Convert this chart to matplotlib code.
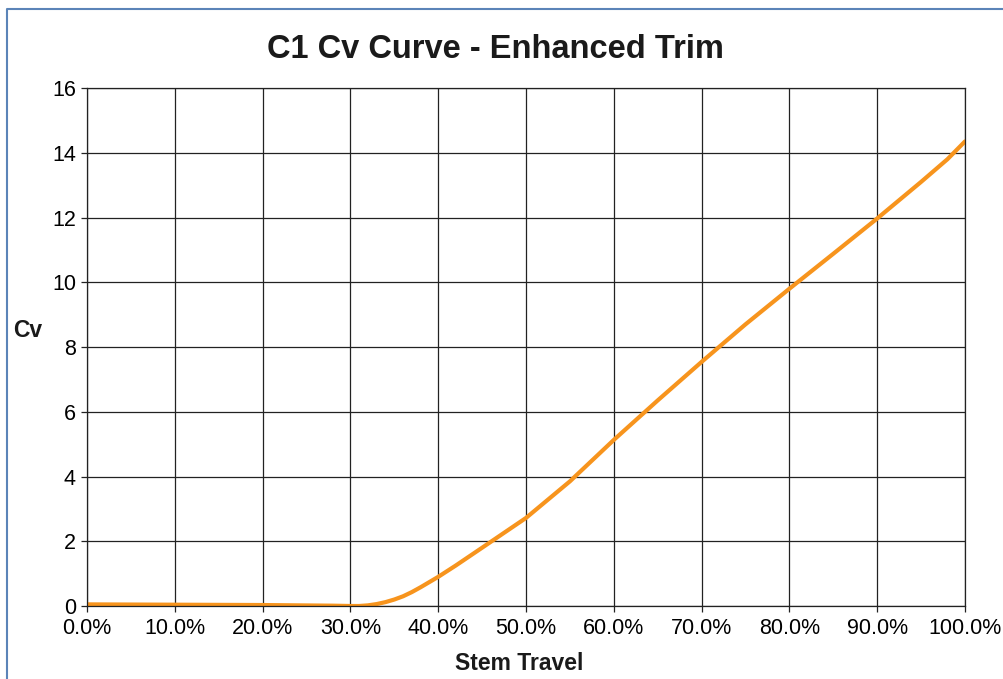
import matplotlib.pyplot as plt
from matplotlib.lines import Line2D
from matplotlib.ticker import FuncFormatter

plt.rcParams['font.family'] = ['Liberation Sans', 'DejaVu Sans']

# Stem travel (%) and Cv
travel = [0, 10, 20, 28, 30, 31, 32, 33, 34, 35, 36, 37, 38, 40, 42, 45,
          50, 55, 60, 65, 70, 75, 80, 85, 90, 95, 98, 100]
cv = [0.05, 0.04, 0.03, 0.01, 0.0, 0.0, 0.02, 0.06, 0.12, 0.2, 0.3, 0.43,
      0.58, 0.9, 1.25, 1.8, 2.72, 3.85, 5.13, 6.35, 7.54, 8.7, 9.8,
      10.88, 11.97, 13.1, 13.8, 14.35]

fig = plt.figure(figsize=(10.04, 6.79), dpi=100)
ax = fig.add_axes([87 / 1004, 1 - 606 / 679, (965 - 87) / 1004, (606 - 88) / 679])

# blue frame (only left and top edges show in the picture)
x0, y1 = 7 / 1004, 1 - 9 / 679
fig.add_artist(Line2D([x0, x0, 1.0], [0.0, y1, y1], transform=fig.transFigure,
                      color='#5b84b8', linewidth=1.5))

ax.plot(travel, cv, color='#f7941d', linewidth=3, solid_capstyle='round')

ax.set_xlim(0, 100)
ax.set_ylim(0, 16)
ax.set_xticks(range(0, 101, 10))
ax.set_yticks(range(0, 17, 2))
ax.xaxis.set_major_formatter(FuncFormatter(lambda v, p: f'{v:.1f}%'))
ax.grid(True, color='#222222', linewidth=0.9)
ax.set_axisbelow(True)
ax.tick_params(labelsize=15.5, length=4, width=0.9, color='#222222')
ax.tick_params(axis='x', pad=5)
ax.tick_params(axis='y', pad=4)
for s in ax.spines.values():
    s.set_color('#222222')
    s.set_linewidth(0.9)

fig.text(495 / 1004, 1 - 50 / 679, 'C1 Cv Curve - Enhanced Trim',
         ha='center', va='center', fontsize=23.5, fontweight='bold',
         color='#1a1a1a')
fig.text(519 / 1004, 1 - 663 / 679, 'Stem Travel', ha='center', va='center',
         fontsize=16.5, fontweight='bold', color='#1a1a1a')
fig.text(28 / 1004, 1 - 330 / 679, 'Cv', ha='center', va='center',
         fontsize=16.5, fontweight='bold', color='#1a1a1a')

plt.savefig('out.png', dpi=100)
